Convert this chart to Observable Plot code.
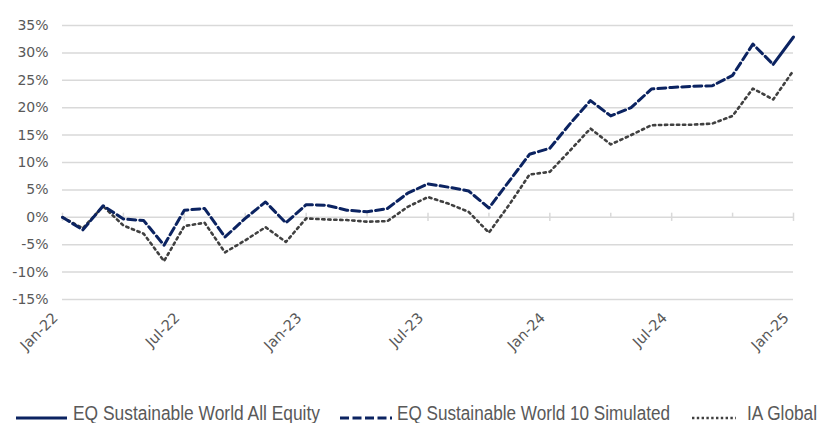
<!DOCTYPE html>
<html><head><meta charset="utf-8">
<script src="https://cdn.jsdelivr.net/npm/d3@7"></script>
<script src="https://cdn.jsdelivr.net/npm/@observablehq/plot@0.6"></script>
<style>
body{margin:0;background:#fff;width:819px;height:423px;overflow:hidden;position:relative;font-family:"DejaVu Sans",sans-serif;}
#chart{position:absolute;left:0;top:0;}
.sw{position:absolute;top:415px;}
.lt{position:absolute;top:403px;font-family:"Liberation Sans",sans-serif;font-size:20px;line-height:20px;color:#595959;white-space:nowrap;transform-origin:0 50%;}
</style></head>
<body>
<div id="chart"></div>
<div id="legend"></div>
<script>
const months = ["Jan-22","Feb-22","Mar-22","Apr-22","May-22","Jun-22","Jul-22","Aug-22","Sep-22","Oct-22","Nov-22","Dec-22",
"Jan-23","Feb-23","Mar-23","Apr-23","May-23","Jun-23","Jul-23","Aug-23","Sep-23","Oct-23","Nov-23","Dec-23",
"Jan-24","Feb-24","Mar-24","Apr-24","May-24","Jun-24","Jul-24","Aug-24","Sep-24","Oct-24","Nov-24","Dec-24","Jan-25"];
const labelMonths = ["Jan-22","Jul-22","Jan-23","Jul-23","Jan-24","Jul-24","Jan-25"];
const quarterMonths = ["Apr-22","Oct-22","Apr-23","Oct-23","Apr-24","Oct-24"];
const yTicks = [-15,-10,-5,0,5,10,15,20,25,30,35];

const allEquityMonths = ["Dec-24","Jan-25"];
const allEquity = [27.9, 32.9];
const simulated = [0,-2.3,2.1,-0.3,-0.6,-5.1,1.3,1.6,-3.6,-0.2,2.8,-1.0,
 2.3,2.2,1.3,1.0,1.6,4.4,6.1,5.5,4.8,1.7,6.6,11.5,
 12.6,17.1,21.3,18.5,20.0,23.4,23.7,23.9,24.0,25.9,31.6,27.9];
const iaGlobal = [0,-2.0,2.0,-1.5,-3.0,-8.0,-1.6,-1.0,-6.4,-4.2,-1.8,-4.5,
 -0.2,-0.4,-0.5,-0.8,-0.7,1.9,3.7,2.5,1.0,-2.8,2.3,7.8,
 8.3,12.2,16.2,13.3,15.0,16.8,16.9,16.9,17.1,18.5,23.5,21.5,26.8];
const seriesNames = ["EQ Sustainable World All Equity","EQ Sustainable World 10 Simulated","IA Global"];

const simData = simulated.map((v,i)=>({m:months[i], v}));
const iaData = iaGlobal.map((v,i)=>({m:months[i], v}));
const aeData = allEquity.map((v,i)=>({m:allEquityMonths[i], v}));

const navy = "#0b2361";
const grey = "#404040";
const gridC = "#d9d9d9";
const textC = "#595959";

const chart = Plot.plot({
  width: 819, height: 400,
  marginTop: 25, marginBottom: 101, marginLeft: 62, marginRight: 26,
  style: {fontFamily: "DejaVu Sans, sans-serif", fontSize: "14px", color: textC, background: "#fff"},
  x: {type: "point", domain: months, padding: 0, round: false},
  y: {domain: [-15, 35]},
  marks: [
    Plot.gridY(yTicks, {stroke: gridC, strokeOpacity: 1, strokeWidth: 1.5}),
    Plot.ruleX(labelMonths, {x: d=>d, y1: -0.75, y2: 0.75, stroke: gridC, strokeWidth: 1.5}),
    Plot.ruleX(quarterMonths, {x: d=>d, y1: 0, y2: 0.75, stroke: gridC, strokeWidth: 1.5}),
    Plot.axisY(yTicks, {tickSize: 0, tickPadding: 14, tickFormat: d => d + "%", fill: textC, fontSize: 14, label: null}),
    Plot.axisX(labelMonths, {tickSize: 0, tickPadding: 16, dx: -7, tickRotate: -45, fill: textC, fontSize: 14.5, label: null}),
    Plot.line(iaData, {x: "m", y: "v", stroke: grey, strokeWidth: 2.6, strokeDasharray: "2.3 3.7"}),
    Plot.line(simData, {x: "m", y: "v", stroke: navy, strokeWidth: 3, strokeDasharray: "8 4"}),
    Plot.line(aeData, {x: "m", y: "v", stroke: navy, strokeWidth: 3})
  ]
});
document.getElementById("chart").appendChild(chart);

// legend
const legend = document.getElementById("legend");
const items = [
  {sx: 16, sw: 51, stroke: navy, dash: null, w: 3, tx: 73, tw: 247},
  {sx: 340, sw: 52, stroke: navy, dash: "9 3.5", w: 3, tx: 397, tw: 273},
  {sx: 692, sw: 44, stroke: grey, dash: "2.4 2.4", w: 2.6, tx: 747, tw: 70}
];
seriesNames.forEach((name, i) => {
  const s = items[i];
  const sv = document.createElement("div");
  sv.className = "sw";
  sv.style.left = s.sx + "px";
  sv.innerHTML = `<svg width="${s.sw}" height="6" style="display:block"><line x1="0" x2="${s.sw}" y1="3" y2="3" stroke="${s.stroke}" stroke-width="${s.w}" ${s.dash ? `stroke-dasharray="${s.dash}"` : ""}/></svg>`;
  legend.appendChild(sv);
  const t = document.createElement("div");
  t.className = "lt";
  t.style.left = s.tx + "px";
  t.textContent = name;
  legend.appendChild(t);
  const measured = t.getBoundingClientRect().width;
  t.style.transform = `scaleX(${s.tw / measured})`;
});
</script>
</body></html>
